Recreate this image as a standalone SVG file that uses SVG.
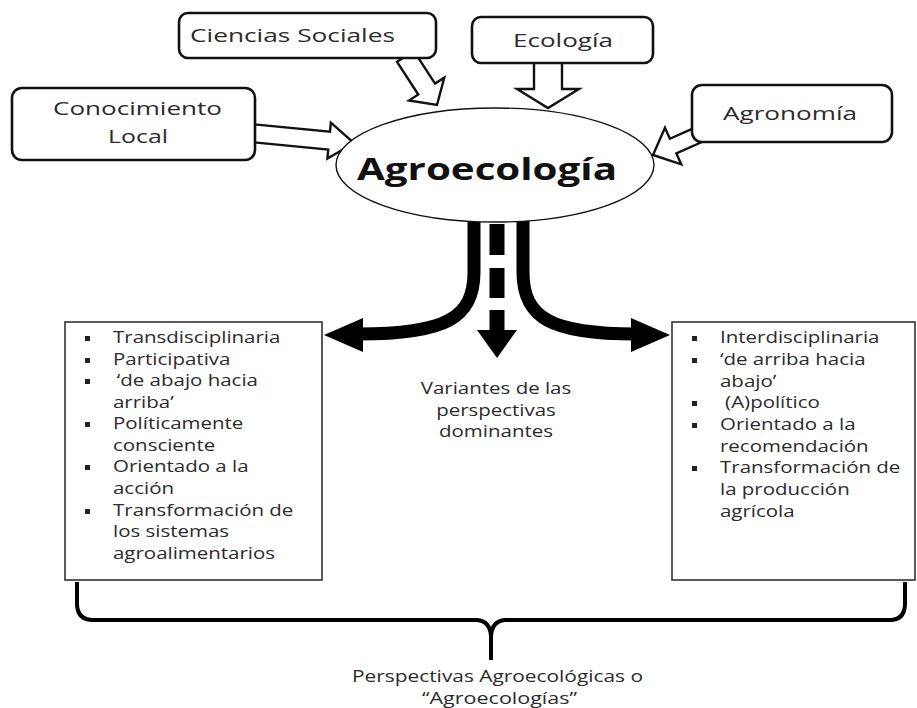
<svg xmlns="http://www.w3.org/2000/svg" width="917" height="708" viewBox="0 0 917 708">
<style>
  .box { fill: #fff; stroke: #111; stroke-width: 2.6; }
  .list { fill: #fff; stroke: #333; stroke-width: 1.6; }
  .blk { fill: #fff; stroke: #111; stroke-width: 2.4; stroke-linejoin: miter; }
  .t { font-family: "Open Sans", "Liberation Sans", sans-serif; fill: #2b2b2b; }
  .top { font-size: 19px; }
  .li { font-size: 16px; }
  .bul { fill: #222; }
  .thick { fill: none; stroke: #000; stroke-width: 13; }
  .bracket { fill: none; stroke: #000; stroke-width: 4; stroke-linejoin: round; }
</style>

<g id="connectors">
  <!-- block arrows into Agroecología -->
  <polygon class="blk" transform="translate(354 143) rotate(5.5)" points="-101,-9 -25,-9 -25,-18 0,0 -25,18 -25,9 -101,9"/>
  <polygon class="blk" transform="translate(437 105) rotate(57)" points="-58,-10 -19,-10 -19,-21 0,0 -19,21 -19,10 -58,10"/>
  <polygon class="blk" transform="translate(548 108) rotate(90)" points="-46,-14 -19,-14 -19,-31 0,0 -19,31 -19,14 -46,14"/>
  <polygon class="blk" transform="translate(653 155) rotate(156)" points="-50,-8 -22,-8 -22,-20 0,0 -22,20 -22,8 -50,8"/>
  <!-- outgoing thick arrows -->
  <path class="thick" d="M474 218 L474 272 C474 318 446 334 358 334"/>
  <polygon points="324,335 363,318 363,352" fill="#000"/>
  <path class="thick" d="M523 218 L523 272 C523 318 551 334 636 334"/>
  <polygon points="670,335 631,318 631,352" fill="#000"/>
  <line x1="497" y1="224" x2="497" y2="332" stroke="#000" stroke-width="15" stroke-dasharray="31 13 30 12 40"/>
  <polygon points="477,330 517,330 497,358" fill="#000"/>
  <!-- bracket -->
  <path class="bracket" d="M77 582 L77 605 Q78 620 93 620 L477 620 Q490 621 491 636 L491 660 M491 636 Q492 621 505 620 L890 620 Q904 620 905 605 L905 582"/>
</g>

<g id="ellipse-agroecologia">
  <ellipse cx="495" cy="165" rx="159" ry="57" fill="#fff" stroke="#111" stroke-width="1.4"/>
  <text x="357" y="180" font-family="'Open Sans', 'Liberation Sans', sans-serif" font-weight="bold" font-size="31" fill="#111" textLength="260" lengthAdjust="spacingAndGlyphs">Agroecología</text>
</g>

<g id="node-conocimiento">
  <rect class="box" x="12" y="88" width="243" height="72" rx="10"/>
  <text class="t top" x="53" y="115" textLength="169" lengthAdjust="spacingAndGlyphs">Conocimiento</text>
  <text class="t top" x="108" y="143" textLength="60" lengthAdjust="spacingAndGlyphs">Local</text>
</g>

<g id="node-ciencias">
  <rect class="box" x="179" y="13" width="257" height="45" rx="9"/>
  <text class="t top" x="190" y="42" textLength="205" lengthAdjust="spacingAndGlyphs">Ciencias Sociales</text>
</g>

<g id="node-ecologia">
  <rect class="box" x="472" y="17" width="181" height="46" rx="9"/>
  <text class="t top" x="513" y="47" textLength="100" lengthAdjust="spacingAndGlyphs">Ecología</text>
</g>

<g id="node-agronomia">
  <rect class="box" x="692" y="85" width="200" height="57" rx="10"/>
  <text class="t top" x="723" y="120" textLength="134" lengthAdjust="spacingAndGlyphs">Agronomía</text>
</g>

<g id="node-left-list">
  <rect class="list" x="65" y="322" width="257" height="258"/>
  <rect class="bul" x="85" y="336" width="5" height="5"/>
  <rect class="bul" x="85" y="358" width="5" height="5"/>
  <rect class="bul" x="85" y="379" width="5" height="5"/>
  <rect class="bul" x="85" y="422" width="5" height="5"/>
  <rect class="bul" x="85" y="465" width="5" height="5"/>
  <rect class="bul" x="85" y="509" width="5" height="5"/>
  <g transform="translate(113 0) scale(1.28 1)">
    <text class="t li" x="0" y="343">Transdisciplinaria</text>
    <text class="t li" x="0" y="365">Participativa</text>
    <text class="t li" x="3" y="386">‘de abajo hacia</text>
    <text class="t li" x="0" y="408">arriba’</text>
    <text class="t li" x="0" y="429">Políticamente</text>
    <text class="t li" x="0" y="451">consciente</text>
    <text class="t li" x="0" y="472">Orientado a la</text>
    <text class="t li" x="0" y="494">acción</text>
    <text class="t li" x="0" y="516">Transformación de</text>
    <text class="t li" x="0" y="537">los sistemas</text>
    <text class="t li" x="0" y="559">agroalimentarios</text>
  </g>
</g>

<g id="node-right-list">
  <rect class="list" x="672" y="322" width="243" height="258"/>
  <rect class="bul" x="692" y="336" width="5" height="5"/>
  <rect class="bul" x="692" y="358" width="5" height="5"/>
  <rect class="bul" x="692" y="401" width="5" height="5"/>
  <rect class="bul" x="692" y="423" width="5" height="5"/>
  <rect class="bul" x="692" y="466" width="5" height="5"/>
  <g transform="translate(720 0) scale(1.28 1)">
    <text class="t li" x="0" y="343">Interdisciplinaria</text>
    <text class="t li" x="0" y="365">‘de arriba hacia</text>
    <text class="t li" x="0" y="387">abajo’</text>
    <text class="t li" x="4" y="408">(A)político</text>
    <text class="t li" x="0" y="430">Orientado a la</text>
    <text class="t li" x="0" y="452">recomendación</text>
    <text class="t li" x="0" y="473">Transformación de</text>
    <text class="t li" x="0" y="495">la producción</text>
    <text class="t li" x="0" y="517">agrícola</text>
  </g>
</g>

<g id="node-variantes">
  <g transform="translate(496 0) scale(1.28 1)">
    <text class="t li" x="0" y="394" text-anchor="middle">Variantes de las</text>
    <text class="t li" x="0" y="416" text-anchor="middle">perspectivas</text>
    <text class="t li" x="0" y="437" text-anchor="middle">dominantes</text>
  </g>
</g>

<g id="node-perspectivas">
  <text class="t" x="352" y="682" font-size="15.5" textLength="291" lengthAdjust="spacingAndGlyphs">Perspectivas Agroecológicas o</text>
  <text class="t" x="422" y="704" font-size="15.5" textLength="155" lengthAdjust="spacingAndGlyphs">“Agroecologías”</text>
</g>
</svg>
